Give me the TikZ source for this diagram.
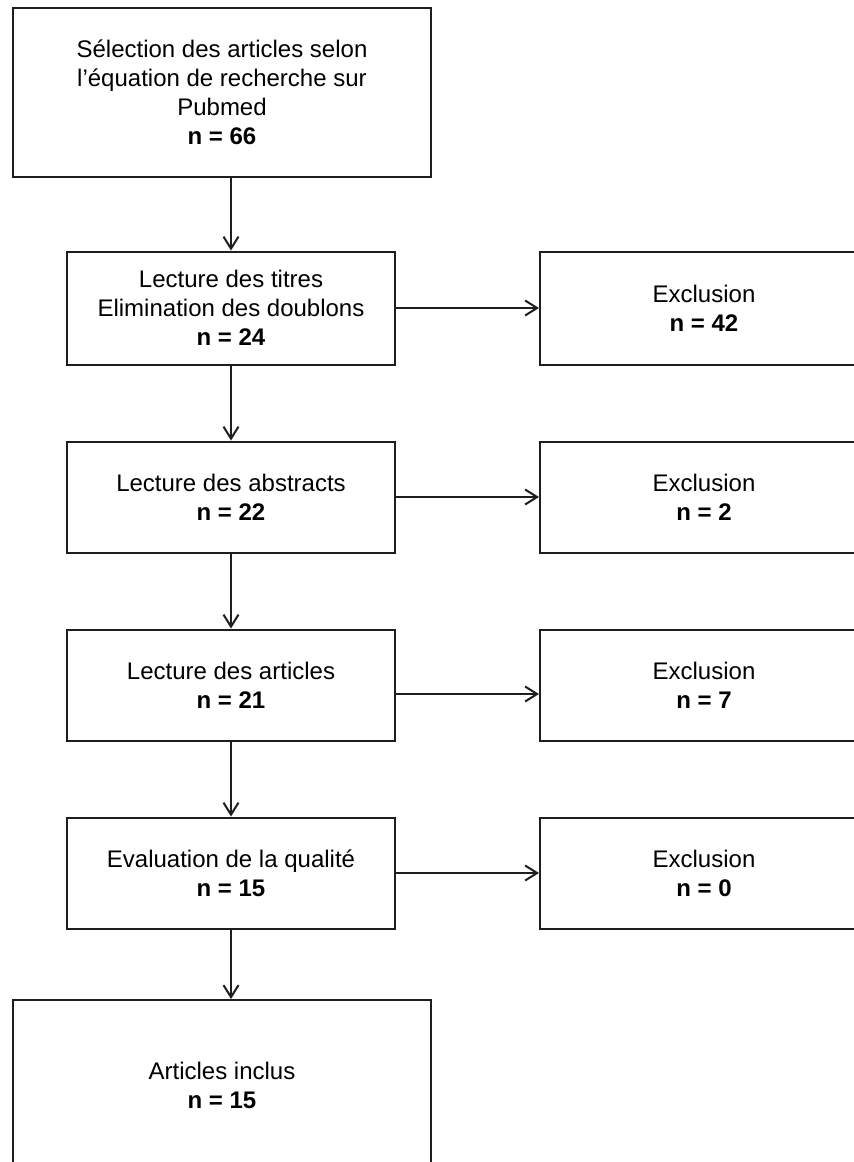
\documentclass[tikz,border=0pt]{standalone}
\usepackage{fontspec}
\setmainfont{Liberation Sans}
\usepackage{xcolor}
\usetikzlibrary{positioning,arrows.meta}
\definecolor{linecolor}{RGB}{30, 30, 30}
\tikzset{
    flow box/.style={rectangle, draw=linecolor, line width=1pt, align=center, inner sep=0pt, font=\fontsize{12}{14.5}\selectfont},
    big box/.style={flow box, minimum width=209pt, minimum height=84.5pt},
    step box/.style={flow box, minimum width=164pt, minimum height=55.5pt},
    excl box/.style={flow box, minimum width=164pt, minimum height=55.5pt},
    flow arrow/.style={-{Straight Barb[length=6pt,width=7.5pt]}, draw=linecolor, line width=1pt}
}
\begin{document}
\begin{tikzpicture}
    \useasboundingbox (0,0) rectangle (426.5pt,-581pt);

    % Search on Pubmed
    \node[big box] (b1) at (111pt,-46.25pt) {Sélection des articles selon\\l’équation de recherche sur\\Pubmed\\\textbf{n = 66}};

    % Screening steps
    \node[step box, minimum height=56.5pt] (b2) at (115.5pt,-154pt) {Lecture des titres\\Elimination des doublons\\\textbf{n = 24}};
    \node[step box, below=37.5pt of b2] (b3) {Lecture des abstracts\\\textbf{n = 22}};
    \node[step box, below=37.5pt of b3] (b4) {Lecture des articles\\\textbf{n = 21}};
    \node[step box, below=37.5pt of b4] (b5) {Evaluation de la qualité\\\textbf{n = 15}};

    % Exclusions
    \node[excl box, minimum height=56.5pt, right=71.5pt of b2] (e1) {Exclusion\\\textbf{n = 42}};
    \node[excl box, right=71.5pt of b3] (e2) {Exclusion\\\textbf{n = 2}};
    \node[excl box, right=71.5pt of b4] (e3) {Exclusion\\\textbf{n = 7}};
    \node[excl box, right=71.5pt of b5] (e4) {Exclusion\\\textbf{n = 0}};

    % Included articles
    \node[big box, minimum height=85pt] (b6) at (111pt,-542.5pt) {Articles inclus\\\textbf{n = 15}};

    % Vertical arrows
    \draw[flow arrow] (b1.south -| b2.north) -- (b2.north);
    \draw[flow arrow] (b2.south) -- (b3.north);
    \draw[flow arrow] (b3.south) -- (b4.north);
    \draw[flow arrow] (b4.south) -- (b5.north);
    \draw[flow arrow] (b5.south) -- (b5.south |- b6.north);

    % Exclusion arrows
    \draw[flow arrow] (b2.east) -- (e1.west);
    \draw[flow arrow] (b3.east) -- (e2.west);
    \draw[flow arrow] ([yshift=-4.5pt]b4.east) -- ([yshift=-4.5pt]e3.west);
    \draw[flow arrow] (b5.east) -- (e4.west);
\end{tikzpicture}
\end{document}
